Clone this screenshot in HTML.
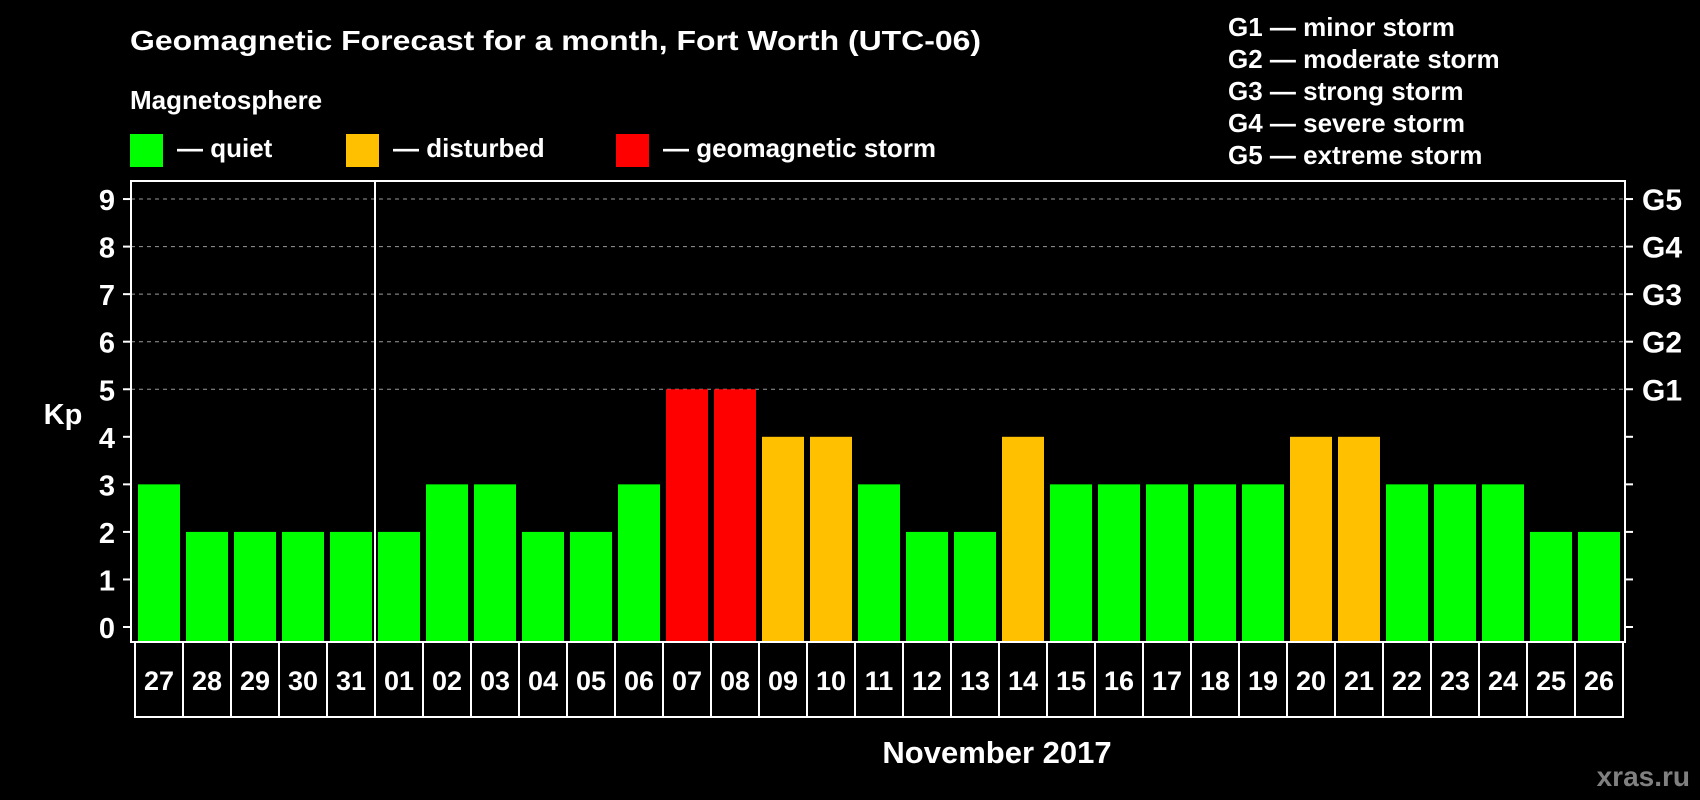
<!DOCTYPE html>
<html><head><meta charset="utf-8"><style>
body{margin:0;background:#000;width:1700px;height:800px;overflow:hidden}
svg{display:block}
text{font-family:"Liberation Sans",Arial,sans-serif;font-weight:bold;fill:#fff}
</style></head><body>
<svg id="chart" width="1700" height="800">
<text x="130" y="50" font-size="28" textLength="851" lengthAdjust="spacingAndGlyphs">Geomagnetic Forecast for a month, Fort Worth (UTC-06)</text>
<text x="130" y="109" font-size="26">Magnetosphere</text>
<g><rect x="130" y="134" width="33" height="33" fill="#00ff00"/><text x="177" y="157" font-size="26">— quiet</text></g>
<g><rect x="346" y="134" width="33" height="33" fill="#ffc000"/><text x="393" y="157" font-size="26">— disturbed</text></g>
<g><rect x="616" y="134" width="33" height="33" fill="#ff0000"/><text x="663" y="157" font-size="26">— geomagnetic storm</text></g>
<g font-size="26">
<text x="1228" y="36">G1 — minor storm</text>
<text x="1228" y="68">G2 — moderate storm</text>
<text x="1228" y="100">G3 — strong storm</text>
<text x="1228" y="132">G4 — severe storm</text>
<text x="1228" y="164">G5 — extreme storm</text>
</g>
<text x="63" y="424" font-size="29" text-anchor="middle">Kp</text>
<text x="997" y="763" font-size="31" text-anchor="middle">November 2017</text>
<text x="1690" y="786" font-size="28" text-anchor="end" style="fill:#808080">xras.ru</text>
<g id="plot"></g>
</svg>
<script>
const days=["27","28","29","30","31","01","02","03","04","05","06","07","08","09","10","11","12","13","14","15","16","17","18","19","20","21","22","23","24","25","26"];
const kp=[3,2,2,2,2,2,3,3,2,2,3,5,5,4,4,3,2,2,4,3,3,3,3,3,4,4,3,3,3,2,2];
const yTicks=[0,1,2,3,4,5,6,7,8,9];
const gLabels=["G1","G2","G3","G4","G5"];
const NS="http://www.w3.org/2000/svg";
const g=document.getElementById('plot');
const L=131,R=1625,T=181,B=642,y0=627,unit=47.55,x0=135,pitch=48;
const y=v=>y0-v*unit;
const x=i=>x0+i*pitch;
function mk(t,a){const e=document.createElementNS(NS,t);for(const k in a)e.setAttribute(k,a[k]);g.appendChild(e);return e;}
yTicks.forEach(v=>{
 if(v>=5){const l=mk('line',{x1:L,x2:R,y1:y(v),y2:y(v),stroke:'#999','stroke-dasharray':'4,4','stroke-width':1});
 
 }
 const tl=mk('line',{x1:L-8,x2:L,y1:y(v),y2:y(v),stroke:'#fff','stroke-width':2});
 
 
 const tr=mk('line',{x1:R,x2:R+8,y1:y(v),y2:y(v),stroke:'#fff','stroke-width':2});
 
 
 const t=mk('text',{x:107,y:y(v)+11,'font-size':29,'text-anchor':'middle'});t.textContent=v;
 
 
});
gLabels.forEach((s,i)=>{const t=mk('text',{x:1642,y:y(5+i)+11,'font-size':30});t.textContent=s;
 
 });
const col=v=>v>=5?'#ff0000':(v>=4?'#ffc000':'#00ff00');
kp.forEach((v,i)=>{
 const r=mk('rect',{x:x(i)+3,y:y(v),width:42,height:B-y(v)-1,fill:col(v)});
 
 
 const b=mk('rect',{x:x(i),y:B,width:pitch,height:75,fill:'none',stroke:'#fff','stroke-width':2});
 
 
 const t=mk('text',{x:x(i)+pitch/2,y:B+48,'font-size':27,'text-anchor':'middle'});t.textContent=days[i];
 
 
});
const f=mk('rect',{x:L,y:T,width:R-L,height:B-T,fill:'none',stroke:'#fff','stroke-width':2});


const m=mk('line',{x1:x(5),x2:x(5),y1:T,y2:B,stroke:'#fff','stroke-width':2});


</script>
</body></html>
